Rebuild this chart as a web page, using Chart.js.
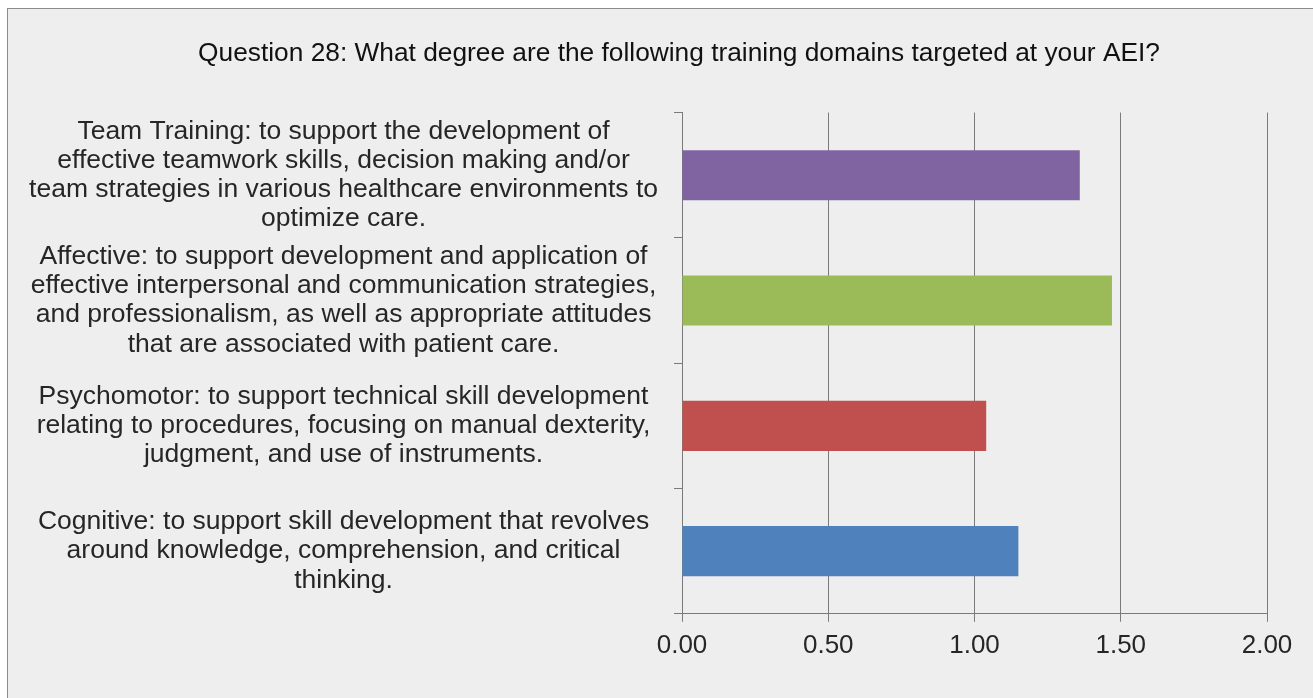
<!DOCTYPE html>
<html>
<head>
<meta charset="utf-8">
<title>Question 28</title>
<script src="https://cdn.jsdelivr.net/npm/chart.js@4"></script>
<style>
  body { margin: 0; background: #ffffff; overflow: hidden; }
  #frame {
    position: absolute; left: 7px; top: 8px;
    width: 1400px; height: 800px;
    border: 1px solid #8c8c8c; background: #eeeeee;
  }
  #box { position: absolute; left: 0; top: 0; width: 1313px; height: 698px; }
</style>
</head>
<body>
<div id="frame"></div>
<div id="box"><canvas id="domainChart"></canvas></div>
<script>
// Survey data - top to bottom as in the figure
const domainLabels = [
    ['Team Training: to support the development of', 'effective teamwork skills, decision making and/or', 'team strategies in various healthcare environments to', 'optimize care.'],
    ['Affective: to support development and application of', 'effective interpersonal and communication strategies,', 'and professionalism, as well as appropriate attitudes', 'that are associated with patient care.'],
    ['Psychomotor: to support technical skill development', 'relating to procedures, focusing on manual dexterity,', 'judgment, and use of instruments.'],
    ['Cognitive: to support skill development that revolves', 'around knowledge, comprehension, and critical', 'thinking.']
];
const domainScores = [1.36, 1.47, 1.04, 1.15];
const barColors = ['#8064a2', '#9bbb59', '#c0504d', '#4f81bd'];
const axisTicks = [0, 0.5, 1, 1.5, 2];

const fontFamily = '"Liberation Sans", Arial, sans-serif';
const textColor = '#262626';
const lineColor = '#7a7a7a';

const ctx = document.getElementById('domainChart').getContext('2d');
const domainChart = new Chart(ctx, {
    type: 'bar',
    data: {
        labels: domainLabels,
        datasets: [{
            label: 'Score',
            data: domainScores,
            backgroundColor: barColors,
            borderWidth: 0,
            categoryPercentage: 1,
            barPercentage: 0.4
        }]
    },
    options: {
        indexAxis: 'y',
        responsive: true,
        maintainAspectRatio: false,
        animation: false,
        layout: {
            // left padding keeps the title centred like the original
            padding: { left: 91, right: 46, top: 0, bottom: 29 }
        },
        plugins: {
            legend: { display: false },
            tooltip: { enabled: false },
            title: {
                display: true,
                text: 'Question 28: What degree are the following training domains targeted at your AEI?',
                color: '#111111',
                font: { family: fontFamily, size: 26.3, weight: 'normal', lineHeight: 1.2 },
                padding: { top: 38, bottom: 43 }
            }
        },
        scales: {
            x: {
                min: 0,
                max: 2,
                afterBuildTicks: (scale) => {
                    scale.ticks = axisTicks.map(v => ({ value: v }));
                },
                ticks: {
                    color: textColor,
                    font: { family: fontFamily, size: 26 },
                    padding: 8,
                    maxRotation: 0,
                    callback: (v) => Number(v).toFixed(2)
                },
                grid: {
                    color: lineColor,
                    lineWidth: 1,
                    drawTicks: true,
                    tickLength: 8
                },
                border: { color: lineColor, width: 1 }
            },
            y: {
                afterFit: (scale) => {
                    scale.width = 682 - 91;
                    // long labels run past the axis box, so don't clip them
                    scale._computeLabelArea = () => undefined;
                },
                ticks: {
                    color: textColor,
                    font: { family: fontFamily, size: 26.5, lineHeight: 1.105 },
                    crossAlign: 'center',
                    padding: 16
                },
                grid: {
                    offset: true,
                    drawOnChartArea: false,
                    drawTicks: true,
                    tickLength: 8,
                    color: lineColor
                },
                border: { color: lineColor, width: 1 }
            }
        }
    }
});
</script>
</body>
</html>
